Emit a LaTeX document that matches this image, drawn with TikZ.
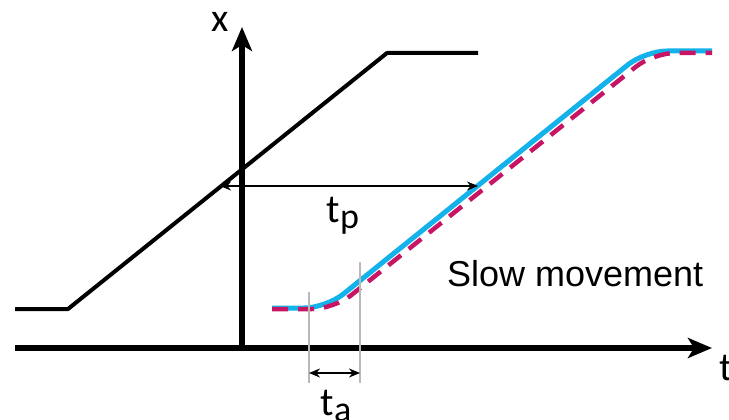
\documentclass[tikz,border=0pt]{standalone}
\usepackage{fontspec}
\setmainfont{Liberation Sans}
\newfontfamily\lblfont{Carlito}
\usetikzlibrary{arrows.meta, positioning, calc}

\definecolor{fastblue}{RGB}{20,178,235}
\definecolor{slowred}{RGB}{200,20,100}

\begin{document}
\begin{tikzpicture}[
    x=1pt, y=-1pt,
    axis/.style={line width=5.5pt, -{Stealth[length=24pt, width=20pt, inset=6pt]}},
    traj/.style={line width=4pt, line join=round},
    fast/.style={line width=5pt, fastblue, rounded corners=22pt},
    slow/.style={line width=4.5pt, slowred, dash pattern=on 16pt off 10pt, rounded corners=22pt},
    guide/.style={line width=1.8pt, gray!55},
    span/.style={line width=2.4pt, {Stealth[length=11pt, width=9pt]}-{Stealth[length=11pt, width=9pt]}},
    lbl/.style={font=\lblfont\fontsize{40}{40}\selectfont, inner sep=0pt},
    note/.style={font=\fontsize{36}{36}\selectfont, inner sep=0pt}
]
    \useasboundingbox (0,0) rectangle (729,420);

    % axes
    \coordinate (orig) at (242,350);
    \coordinate (tend) at (712,348);
    \coordinate (xend) at (242,27);
    \draw [axis] (15,348) -- (tend);
    \draw [axis] (orig) -- (xend);
    \node [lbl, anchor=base west] (tlbl) at (719,380) {t};
    \node [lbl, anchor=base] (xlbl) at (220,32) {x};

    % reference trajectory
    \coordinate (r0) at (15,309);
    \coordinate (r1) at (68,309);
    \coordinate (r2) at (387,53);
    \coordinate (r3) at (478,53);
    \draw [traj] (r0) -- (r1) -- (r2) -- (r3);

    % slow trajectories
    \draw [fast] (272,308) -- (326,308) -- (645,51) -- (712,51);
    \draw [slow] (272,309) -- (334,309) -- (653,53) -- (712,53);

    % tp
    \coordinate (tpl) at (220,186);
    \coordinate (tpr) at (478,186);
    \draw [span] (tpl) -- (tpr);
    \node [lbl, anchor=base] (tp) at (343,222) {t\raisebox{-6pt}{\fontsize{36}{36}\selectfont p}};

    % ta
    \coordinate (ga) at (309,292);
    \coordinate (gb) at (360,262);
    \draw [guide] (ga) -- ++(0,91) coordinate (ga2);
    \draw [guide] (gb) -- ++(0,121) coordinate (gb2);
    \draw [span] ($(ga2)+(0,-10)$) -- ($(gb2)+(0,-10)$);
    \node [lbl, anchor=base] (ta) at (336,415) {t\raisebox{-6pt}{\fontsize{36}{36}\selectfont a}};

    \node [note, anchor=base west] (slowlbl) at (447,286) {Slow movement};
\end{tikzpicture}
\end{document}
